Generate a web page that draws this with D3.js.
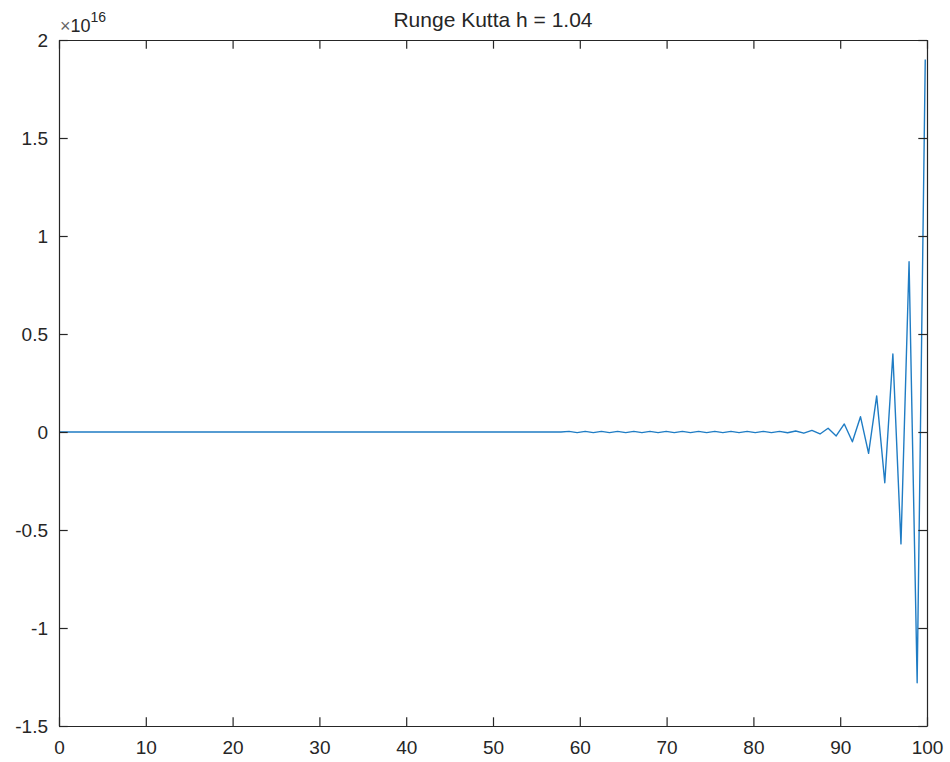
<!DOCTYPE html>
<html>
<head>
<meta charset="utf-8">
<script src="https://cdn.jsdelivr.net/npm/d3@7"></script>
<style>
  body { margin: 0; background: #fff; }
  text { font-family: "Liberation Sans", Arial, Helvetica, sans-serif; fill: #262626; }
</style>
</head>
<body>
<div id="chart"></div>
<script>
// chart values, y in units of 1e16
const titleText = "Runge Kutta h = 1.04";
const yExponent = 16;
const tStep = 0.9327;
const yValues = [
  0, 0, 0, 0, 0, 0, 0, 0, 0, 0,
  0, 0, 0, 0, 0, 0, 0, 0, 0, 0,
  0, 0, 0, 0, 0, 0, 0, 0, 0, 0,
  0, 0, 0, 0, 0, 0, 0, 0, 0, 0,
  0, 0, 0, 0, 0, 0, 0, 0, 0, 0,
  0, 0, 0, 0, 0, 0, 0, 0, 0, 0,
  0, 0, 0,
  0.003, -0.003, 0.003, -0.003, 0.003, -0.003, 0.003, -0.003, 0.003, -0.003,
  0.003, -0.003, 0.003, -0.003, 0.003, -0.003, 0.003, -0.003, 0.003, -0.003,
  0.003, -0.003, 0.003, -0.003, 0.003, -0.003, 0.003, -0.004, 0.005,
  -0.006, 0.008, -0.010, 0.019, -0.020, 0.041, -0.050, 0.078,
  -0.109, 0.184, -0.259, 0.398, -0.571, 0.869, -1.279, 1.900
];
const xTicks = [0, 10, 20, 30, 40, 50, 60, 70, 80, 90, 100];
const yTicks = [-1.5, -1, -0.5, 0, 0.5, 1, 1.5, 2];
const yTickLabels = ["-1.5", "-1", "-0.5", "0", "0.5", "1", "1.5", "2"];

const canvas = { w: 950, h: 762 };
const box = { left: 59, right: 927, top: 40, bottom: 726 };

const points = yValues.map((v, i) => ({ t: i * tStep, y: v }));

const x = d3.scaleLinear().domain([0, 100]).range([box.left, box.right]);
const y = d3.scaleLinear().domain([-1.5, 2]).range([box.bottom, box.top]);

const svg = d3.select("#chart")
  .append("svg")
  .attr("width", canvas.w)
  .attr("height", canvas.h)
  .attr("viewBox", `0 0 ${canvas.w} ${canvas.h}`);

svg.append("rect").attr("width", canvas.w).attr("height", canvas.h).attr("fill", "#fff");

const tick = 8.7;

// data line
const line = d3.line().x(d => x(d.t)).y(d => y(d.y));
svg.append("path")
  .datum(points)
  .attr("fill", "none")
  .attr("stroke", "#1f7cc4")
  .attr("stroke-width", 1.4)
  .attr("stroke-linejoin", "round")
  .attr("d", line);

function styleAxis(g) {
  g.select(".domain").attr("stroke", "#262626").attr("stroke-width", 1.2);
  g.selectAll(".tick line").attr("stroke", "#262626").attr("stroke-width", 1.2);
  g.selectAll("text").attr("font-size", 19).attr("fill", "#262626")
    .attr("font-family", "'Liberation Sans', Arial, Helvetica, sans-serif");
}

svg.append("g")
  .attr("transform", `translate(0,${box.bottom})`)
  .call(d3.axisBottom(x).tickValues(xTicks).tickFormat(d3.format("d"))
    .tickSizeInner(-tick).tickSizeOuter(0).tickPadding(15))
  .call(styleAxis);

svg.append("g")
  .attr("transform", `translate(0,${box.top})`)
  .call(d3.axisTop(x).tickValues(xTicks).tickFormat("")
    .tickSizeInner(-tick).tickSizeOuter(0))
  .call(styleAxis);

svg.append("g")
  .attr("transform", `translate(${box.left},0)`)
  .call(d3.axisLeft(y).tickValues(yTicks).tickFormat((d, i) => yTickLabels[i])
    .tickSizeInner(-tick).tickSizeOuter(0).tickPadding(11))
  .call(styleAxis);

svg.append("g")
  .attr("transform", `translate(${box.right},0)`)
  .call(d3.axisRight(y).tickValues(yTicks).tickFormat("")
    .tickSizeInner(-tick).tickSizeOuter(0))
  .call(styleAxis);

// exponent label
const ex = svg.append("text")
  .attr("x", box.left + 1)
  .attr("y", 32)
  .attr("font-size", 18);
ex.append("tspan").attr("fill", "#666").text("\u00d7");
ex.append("tspan").text("10");
ex.append("tspan").attr("dy", -10).attr("font-size", 14).text(yExponent);

// title
svg.append("text")
  .attr("x", (box.left + box.right) / 2)
  .attr("y", 27)
  .attr("text-anchor", "middle")
  .attr("font-size", 21)
  .text(titleText);
</script>
</body>
</html>
